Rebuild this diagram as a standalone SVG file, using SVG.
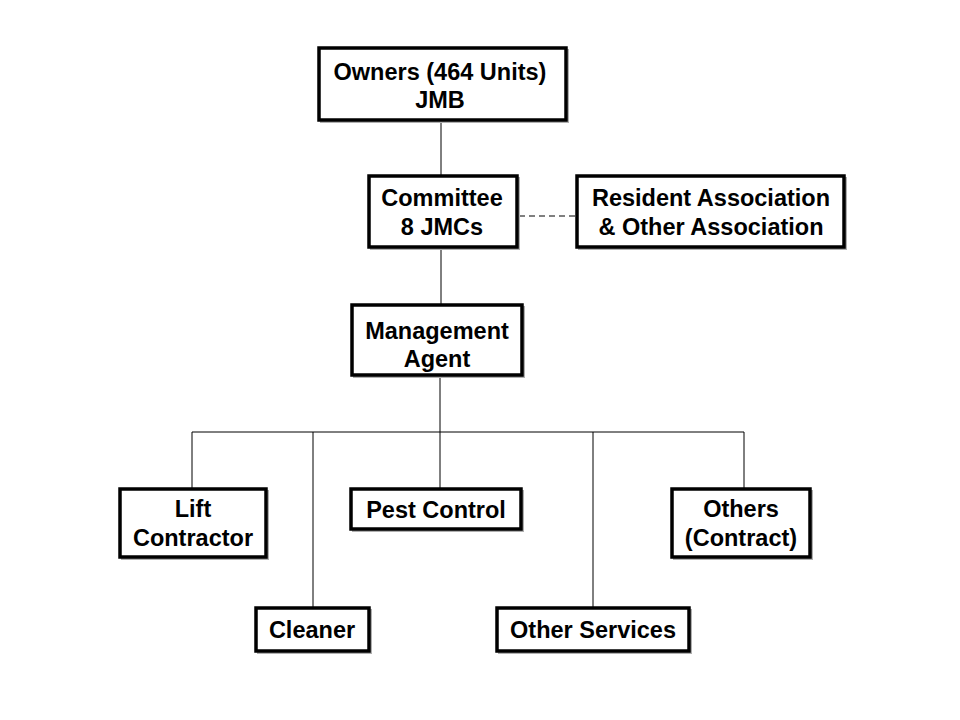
<svg xmlns="http://www.w3.org/2000/svg" width="960" height="720" viewBox="0 0 960 720">
<style>
.box{fill:#fff;stroke:#000;stroke-width:3.5}
.sh{fill:none;stroke:#b0b0b0;stroke-width:2}
.t{font-family:"Liberation Sans",Arial,sans-serif;font-weight:bold;font-size:23.5px;text-anchor:middle;fill:#000}
.ln{stroke:#000;stroke-width:1;fill:none}
.dash{stroke:#000;stroke-width:1;stroke-dasharray:6,4;fill:none}
</style>
<rect width="960" height="720" fill="#fff"/>
<g id="connectors">
<line class="ln" x1="441" y1="120" x2="441" y2="176"/>
<line class="ln" x1="441" y1="247" x2="441" y2="305"/>
<line class="dash" x1="519" y1="216" x2="576" y2="216"/>
<line class="ln" x1="440" y1="375" x2="440" y2="432"/>
<line class="ln" x1="192" y1="432" x2="744" y2="432"/>
<line class="ln" x1="192" y1="432" x2="192" y2="489"/>
<line class="ln" x1="313" y1="432" x2="313" y2="608"/>
<line class="ln" x1="440" y1="432" x2="440" y2="489"/>
<line class="ln" x1="593" y1="432" x2="593" y2="608"/>
<line class="ln" x1="744" y1="432" x2="744" y2="489"/>
</g>
<g id="owners">
<rect class="sh" x="321" y="50" width="247" height="72"/>
<rect class="box" x="319" y="48" width="247" height="72"/>
<text class="t" x="440" y="80">Owners (464 Units)</text>
<text class="t" x="440" y="108">JMB</text>
</g>
<g id="committee">
<rect class="sh" x="371" y="178" width="148" height="71"/>
<rect class="box" x="369" y="176" width="148" height="71"/>
<text class="t" x="442" y="206">Committee</text>
<text class="t" x="442" y="235">8 JMCs</text>
</g>
<g id="resident">
<rect class="sh" x="579" y="178" width="267" height="71"/>
<rect class="box" x="577" y="176" width="267" height="71"/>
<text class="t" x="711" y="206">Resident Association</text>
<text class="t" x="711" y="235">&amp; Other Association</text>
</g>
<g id="management">
<rect class="sh" x="354" y="307" width="170" height="70"/>
<rect class="box" x="352" y="305" width="170" height="70"/>
<text class="t" x="437" y="339">Management</text>
<text class="t" x="437" y="367">Agent</text>
</g>
<g id="lift">
<rect class="sh" x="122" y="491" width="146" height="68"/>
<rect class="box" x="120" y="489" width="146" height="68"/>
<text class="t" x="193" y="517">Lift</text>
<text class="t" x="193" y="546">Contractor</text>
</g>
<g id="pest">
<rect class="sh" x="353" y="491" width="170" height="40"/>
<rect class="box" x="351" y="489" width="170" height="40"/>
<text class="t" x="436" y="518">Pest Control</text>
</g>
<g id="others">
<rect class="sh" x="674" y="491" width="138" height="68"/>
<rect class="box" x="672" y="489" width="138" height="68"/>
<text class="t" x="741" y="517">Others</text>
<text class="t" x="741" y="546">(Contract)</text>
</g>
<g id="cleaner">
<rect class="sh" x="258" y="610" width="113" height="43"/>
<rect class="box" x="256" y="608" width="113" height="43"/>
<text class="t" x="312" y="638">Cleaner</text>
</g>
<g id="otherservices">
<rect class="sh" x="499" y="610" width="192" height="43"/>
<rect class="box" x="497" y="608" width="192" height="43"/>
<text class="t" x="593" y="638">Other Services</text>
</g>
</svg>
